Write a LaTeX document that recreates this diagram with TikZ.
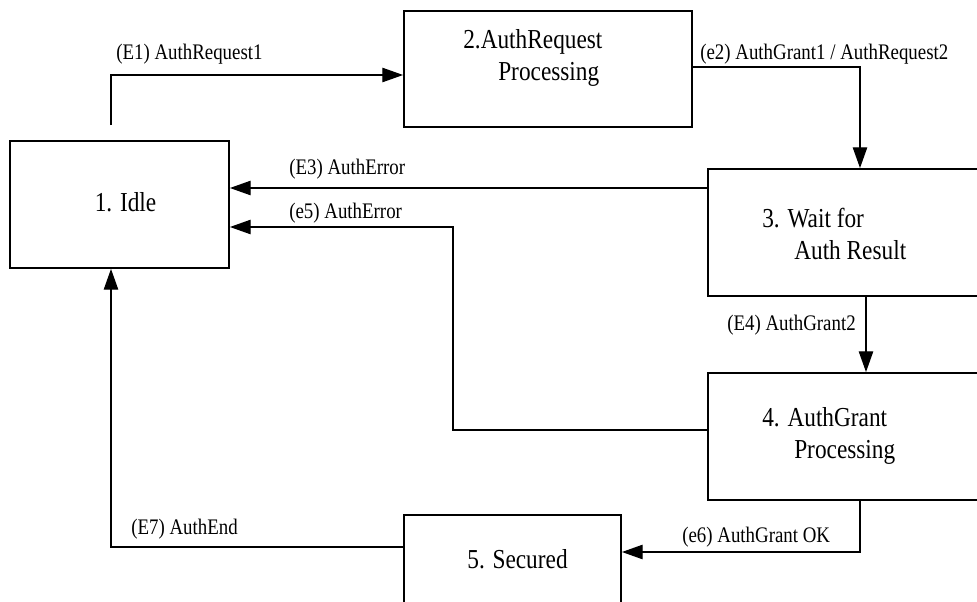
\documentclass[tikz,border=0pt]{standalone}
\usepackage{fontspec}
\setmainfont{Liberation Serif}[FakeStretch=0.85]
\usetikzlibrary{arrows.meta}

\begin{document}
\begin{tikzpicture}[x=1cm,y=1cm,
  state/.style={draw, line width=1.3pt, minimum width=#1, minimum height=3.175cm, inner sep=0pt},
  statetext/.style={align=left, inner sep=0pt, font=\fontsize{19.5}{22.5}\selectfont},
  evlabel/.style={anchor=west, inner sep=0pt, font=\fontsize{15.8}{19}\selectfont},
  flow/.style={line width=1pt, -{Triangle[length=0.52cm,width=0.36cm]}}]
\useasboundingbox (0,0) rectangle (24.425,15.025);
\clip (0,0) rectangle (24.425,15.025);

% states
\node[state=5.475cm] (idle) at (2.9875,9.9125) {};
\node[state=7.2cm, minimum height=2.9cm] (req) at (13.7,13.3) {};
\node[state=7.05cm] (wait) at (21.225,9.2125) {};
\node[state=7.05cm] (grant) at (21.225,4.1125) {};
\node[state=5.425cm] (sec) at (12.8125,0.5625) {};

\node[statetext] (idletxt) at (3.1375,9.975) {1. Idle};
\node[statetext, anchor=west] (reqtxt) at (11.575,13.575) {2.AuthRequest\\\hspace*{0.875cm}Processing};
\node[statetext, anchor=west] (waittxt) at (19.05,9.175) {3. Wait for\\\hspace*{0.8cm}Auth Result};
\node[statetext, anchor=west] (granttxt) at (19.05,4.125) {4. AuthGrant\\\hspace*{0.8cm}Processing};
\node[statetext] (sectxt) at (12.9375,1.05) {5. Secured};

% bends
\coordinate (c1) at (2.775,13.15);
\coordinate (c2) at (21.5,13.35);
\coordinate (c3) at (17.7,10.325);
\coordinate (c4) at (21.65,6.5);
\coordinate (c5a) at (11.325,4.275);
\coordinate (c5b) at (11.325,9.35);
\coordinate (c6) at (21.5,1.225);
\coordinate (c7) at (2.775,1.35);

% transitions
\draw[flow, shorten <=0.375cm] (c1 |- idle.north) -- (c1) -- (c1 -| req.west);
\draw[flow] (req.east |- c2) -- (c2) -- (c2 |- wait.north);
\draw[flow] (wait.west |- c3) -- (idle.east |- c3);
\draw[flow] (grant.west |- c5a) -- (c5a) -- (c5b) -- (idle.east |- c5b);
\draw[flow] (c4 |- wait.south) -- (c4 |- grant.north);
\draw[flow] (c6 |- grant.south) -- (c6) -- (sec.east |- c6);
\draw[flow] (sec.west |- c7) -- (c7) -- (c7 |- idle.south);

\node[evlabel] (l1) at (2.9,13.675) {(E1) AuthRequest1};
\node[evlabel] (l2) at (17.5,13.675) {(e2) AuthGrant1 / AuthRequest2};
\node[evlabel] (l3) at (7.225,10.8) {(E3) AuthError};
\node[evlabel] (l5) at (7.225,9.7) {(e5) AuthError};
\node[evlabel] (l4) at (18.175,6.9) {(E4) AuthGrant2};
\node[evlabel] (l6) at (17.05,1.6) {(e6) AuthGrant OK};
\node[evlabel] (l7) at (3.275,1.8) {(E7) AuthEnd};
\end{tikzpicture}
\end{document}
